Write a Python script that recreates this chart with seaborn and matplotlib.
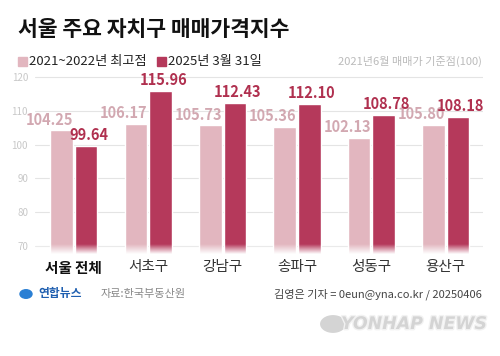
import numpy as np
import pandas as pd
import seaborn as sns
import matplotlib.pyplot as plt
import matplotlib.patheffects as pe
from matplotlib.patches import Rectangle, Circle

# data
districts = ["서울 전체", "서초구", "강남구", "송파구", "성동구", "용산구"]
peak = [104.25, 106.17, 105.73, 105.36, 102.13, 105.80]
latest = [99.64, 115.96, 112.43, 112.10, 108.78, 108.18]
series = ["2021~2022년 최고점", "2025년 3월 31일"]
yticks = [70, 80, 90, 100, 110, 120]

light = "#e2b6bf"
dark = "#b5395b"

sns.set_theme(style="white")
plt.rcParams["font.family"] = ["Noto Sans CJK KR", "DejaVu Sans"]

df = pd.DataFrame({
    "district": districts * 2,
    "series": [series[0]] * len(districts) + [series[1]] * len(districts),
    "value": peak + latest,
})

fig = plt.figure(figsize=(5, 3.56), dpi=100)
ax = fig.add_axes([35 / 500, 1 - 254 / 356, 448 / 500, 184 / 356])

sns.barplot(data=df, x="district", y="value", hue="series",
            palette=[light, dark], width=0.66, gap=0.08, legend=False,
            saturation=1, ax=ax)

ax.set_yticks(yticks)
ax.set_yticklabels([str(t) for t in yticks], fontsize=7, color="#c8c8c8")
ax.yaxis.grid(True, color="#e4e4e4", linewidth=0.8)
ax.set_axisbelow(True)
ax.tick_params(axis="y", length=0, pad=5)
ax.tick_params(axis="x", length=0, pad=4)
for s in ax.spines.values():
    s.set_visible(False)
ax.set_xlabel("")
ax.set_ylabel("")
ax.set_xticks(range(len(districts)))
ax.set_xticklabels(districts, fontsize=10.5, color="#333333")
ax.get_xticklabels()[0].set_fontweight("bold")
ax.get_xticklabels()[0].set_color("#111111")

# value labels: light ones flush with the bar's right edge, dark ones centred
for bar, v in zip(ax.containers[0], peak):
    ax.annotate(f"{v:.2f}", (bar.get_x() + bar.get_width(), v),
                xytext=(0.5, 2), textcoords="offset points", ha="right", va="bottom",
                fontsize=10.5, color="#d2a8b1", fontweight="semibold")
for bar, v in zip(ax.containers[1], latest):
    ax.annotate(f"{v:.2f}", (bar.get_x() + bar.get_width() / 2, v),
                xytext=(2, 2), textcoords="offset points", ha="center", va="bottom",
                fontsize=10.5, color="#b0304f", fontweight="bold")

# fade at the bottom of the bars (opaque white at the bottom)
grad = np.linspace(1, 0, 64).reshape(-1, 1)
ax.imshow(np.dstack([np.ones_like(grad)] * 3 + [grad]),
          extent=[-0.52, 5.5, 67.5, 70.2], aspect="auto", zorder=5,
          origin="lower", interpolation="bilinear")
ax.set_xlim(-0.52, 5.5)
ax.set_ylim(67.5, 122.2)

# title and legend
fig.text(18 / 500, 1 - 29 / 356, "서울 주요 자치구 매매가격지수", fontsize=15.5,
         fontweight="bold", color="#111111", va="center")
fig.patches.append(Rectangle((18 / 500, 1 - 66 / 356), 9 / 500, 9 / 356,
                             transform=fig.transFigure, color=light))
fig.text(29 / 500, 1 - 61 / 356, series[0], fontsize=9.5, color="#222222", va="center")
fig.patches.append(Rectangle((157 / 500, 1 - 66 / 356), 9 / 500, 9 / 356,
                             transform=fig.transFigure, color=dark))
fig.text(168 / 500, 1 - 61 / 356, series[1], fontsize=9.5, color="#222222", va="center")
fig.text(482 / 500, 1 - 61 / 356, "2021년6월 매매가 기준점(100)", fontsize=8,
         color="#bbbbbb", ha="right", va="center")

# footer
fig.patches.append(Circle((26 / 500, 1 - 294 / 356), 6 / 500, transform=fig.transFigure,
                          color="#2a7fd4"))
fig.text(38 / 500, 1 - 294 / 356, "연합뉴스", fontsize=8.5, fontweight="bold",
         color="#1f5fb0", va="center")
fig.text(101 / 500, 1 - 294 / 356, "자료:한국부동산원", fontsize=8, color="#888888",
         va="center")
fig.text(482 / 500, 1 - 294 / 356, "김영은 기자 = 0eun@yna.co.kr / 20250406",
         fontsize=8, color="#444444", ha="right", va="center")

# watermark
fig.patches.append(Circle((333 / 500, 1 - 324 / 356), 14 / 500, transform=fig.transFigure,
                          facecolor="#d4d4d4", edgecolor="white", linewidth=1.5))
fig.text(487 / 500, 1 - 324 / 356, "YONHAP NEWS", fontsize=12.5, fontweight="bold",
         fontstyle="italic", color="#d4d4d4", ha="right", va="center",
         family=["DejaVu Sans"],
         path_effects=[pe.withStroke(linewidth=2, foreground="#f2f2f2")])

fig.savefig("out.png", dpi=100, facecolor="white")
